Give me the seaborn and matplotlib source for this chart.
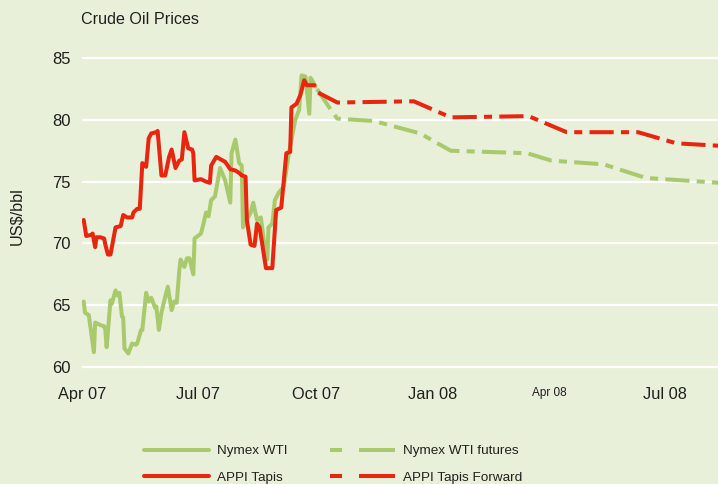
# Crude oil prices: Nymex WTI / APPI Tapis, spot and forward curves
import pandas as pd
import matplotlib.pyplot as plt
import matplotlib.dates as mdates
from matplotlib.lines import Line2D
import seaborn as sns

# --- data (US$/bbl) ---
wti_dates = ["2007-04-02", "2007-04-03", "2007-04-06", "2007-04-10", "2007-04-11", "2007-04-15",
             "2007-04-18", "2007-04-19", "2007-04-20", "2007-04-23", "2007-04-24", "2007-04-27",
             "2007-04-28", "2007-04-30", "2007-05-02", "2007-05-03", "2007-05-04", "2007-05-07",
             "2007-05-10", "2007-05-13", "2007-05-14", "2007-05-17", "2007-05-18", "2007-05-21",
             "2007-05-23", "2007-05-25", "2007-05-28", "2007-05-29", "2007-05-31", "2007-06-02",
             "2007-06-05", "2007-06-07", "2007-06-10", "2007-06-12", "2007-06-14", "2007-06-16",
             "2007-06-17", "2007-06-20", "2007-06-22", "2007-06-24", "2007-06-27", "2007-06-28",
             "2007-07-03", "2007-07-05", "2007-07-07", "2007-07-09", "2007-07-11", "2007-07-14",
             "2007-07-18", "2007-07-22", "2007-07-26", "2007-07-27", "2007-07-30", "2007-08-02",
             "2007-08-04", "2007-08-05", "2007-08-08", "2007-08-11", "2007-08-13", "2007-08-16",
             "2007-08-19", "2007-08-21", "2007-08-24", "2007-08-25", "2007-08-28", "2007-08-30",
             "2007-09-02", "2007-09-06", "2007-09-10", "2007-09-15", "2007-09-18", "2007-09-20",
             "2007-09-23", "2007-09-26", "2007-09-27", "2007-10-01"]
wti_price = [65.3, 64.4, 64.2, 61.2, 63.6, 63.4,
             63.3, 63.0, 61.6, 65.4, 65.1, 66.2,
             65.8, 66.0, 64.1, 64.0, 61.5, 61.1,
             61.9, 61.8, 61.9, 63.0, 63.0, 66.0,
             65.3, 65.6, 64.8, 64.9, 63.0, 64.4,
             65.7, 66.5, 64.6, 65.3, 65.2, 67.8,
             68.7, 68.1, 68.8, 68.8, 67.5, 70.4,
             70.8, 71.6, 72.5, 72.2, 73.5, 73.8,
             76.1, 75.1, 73.3, 77.3, 78.4, 76.5,
             76.3, 71.3, 71.9, 72.5, 73.3, 71.9,
             72.1, 70.5, 68.7, 71.3, 71.6, 73.5,
             74.1, 74.6, 77.3, 80.0, 80.8, 83.6,
             83.5, 80.5, 83.4, 82.7]

wti_fut_dates = ["2007-10-02", "2007-10-13", "2007-10-18", "2007-11-16", "2007-12-22", "2008-01-15",
                 "2008-03-15", "2008-04-03", "2008-05-14", "2008-06-16", "2008-08-13"]
wti_fut_price = [82.5, 80.8, 80.1, 79.9, 78.9, 77.5,
                 77.3, 76.7, 76.4, 75.3, 74.9]

tapis_dates = ["2007-04-02", "2007-04-04", "2007-04-08", "2007-04-09", "2007-04-11", "2007-04-12",
               "2007-04-15", "2007-04-18", "2007-04-19", "2007-04-21", "2007-04-23", "2007-04-27",
               "2007-05-01", "2007-05-03", "2007-05-06", "2007-05-10", "2007-05-11", "2007-05-14",
               "2007-05-16", "2007-05-18", "2007-05-21", "2007-05-23", "2007-05-25", "2007-05-29",
               "2007-05-30", "2007-06-02", "2007-06-05", "2007-06-08", "2007-06-10", "2007-06-13",
               "2007-06-16", "2007-06-18", "2007-06-20", "2007-06-23", "2007-06-26", "2007-06-27",
               "2007-06-28", "2007-07-03", "2007-07-07", "2007-07-10", "2007-07-11", "2007-07-15",
               "2007-07-22", "2007-07-26", "2007-07-30", "2007-08-02", "2007-08-04", "2007-08-07",
               "2007-08-08", "2007-08-11", "2007-08-14", "2007-08-16", "2007-08-18", "2007-08-20",
               "2007-08-23", "2007-08-28", "2007-08-31", "2007-09-04", "2007-09-08", "2007-09-11",
               "2007-09-12", "2007-09-16", "2007-09-19", "2007-09-22", "2007-09-24", "2007-09-30"]
tapis_price = [71.9, 70.6, 70.7, 70.8, 69.7, 70.5,
               70.5, 70.4, 69.9, 69.1, 69.1, 71.3,
               71.4, 72.3, 72.1, 72.1, 72.5, 72.8,
               72.8, 76.5, 76.2, 78.5, 78.9, 79.0,
               79.1, 75.5, 75.5, 77.0, 77.6, 76.1,
               76.7, 76.8, 79.0, 77.7, 77.6, 77.3,
               75.1, 75.2, 75.0, 74.9, 76.3, 77.0,
               76.6, 76.0, 75.9, 75.7, 75.5, 75.4,
               71.9, 69.9, 69.8, 71.6, 71.3, 70.0,
               68.0, 68.0, 72.7, 72.9, 77.3, 77.4,
               81.0, 81.3, 82.0, 83.2, 82.8, 82.8]

tapis_fwd_dates = ["2007-10-03", "2007-10-18", "2007-12-17", "2008-01-15", "2008-03-16",
                   "2008-04-15", "2008-06-10", "2008-07-10", "2008-08-13"]
tapis_fwd_price = [82.2, 81.4, 81.5, 80.2, 80.3,
                   79.0, 79.0, 78.1, 77.9]

tick_dates = ["2007-04-01", "2007-07-01", "2007-10-01", "2008-01-01", "2008-04-01", "2008-07-01"]
tick_labels = ["Apr 07", "Jul 07", "Oct 07", "Jan 08", "Apr 08", "Jul 08"]

# --- style ---
sns.set_theme(style="white")
plt.rcParams['font.family'] = ['Liberation Sans', 'DejaVu Sans']

bg = "#E8F0D9"
green = "#A9CA6C"
red = "#E8250F"
ink = "#231F20"
lw = 2.9
fwd_dash = (6, 1.8, 2, 1.8)

fig = plt.figure(figsize=(7.18, 4.84), dpi=100, facecolor=bg)
ax = fig.add_axes([0.1148, 0.2289, 0.8852, 0.6895], facecolor=bg)


def draw(dates, prices, color, dashes=None):
    df = pd.DataFrame({"date": pd.to_datetime(dates), "price": prices})
    sns.lineplot(data=df, x="date", y="price", color=color, lw=lw, ax=ax)
    line = ax.lines[-1]
    if dashes:
        line.set_dashes(dashes)


draw(wti_dates, wti_price, green)
draw(wti_fut_dates, wti_fut_price, green, fwd_dash)
draw(tapis_dates, tapis_price, red)
draw(tapis_fwd_dates, tapis_fwd_price, red, fwd_dash)

# axes
start = pd.Timestamp("2007-04-01")
ax.set_xlim(mdates.date2num(start), mdates.date2num(start) + 498.7)
ax.set_ylim(59.5, 86.5)
ax.set_yticks([60, 65, 70, 75, 80, 85])
ax.set_xticks(pd.to_datetime(tick_dates))
ax.set_xticklabels(tick_labels)
ax.set_xlabel("")
ax.set_ylabel("")
ax.yaxis.grid(True, color="white", lw=1.6)
ax.xaxis.grid(False)
ax.set_axisbelow(True)
for s in ax.spines.values():
    s.set_visible(False)
ax.tick_params(axis="y", length=0, pad=8.5, labelsize=12, labelcolor=ink)
ax.tick_params(axis="x", length=0, pad=10, labelsize=11.8, labelcolor=ink)
ax.get_xticklabels()[4].set_fontsize(8.5)

fig.text(81 / 718, 1 - 24 / 484, "Crude Oil Prices", fontsize=11.6, color=ink, va="baseline", ha="left")
fig.text(17 / 718, 1 - 216 / 484, "US$/bbl", fontsize=11.7, color=ink, rotation=90, va="center", ha="center")

# legend
handles = [
    Line2D([], [], color=green, lw=lw),
    Line2D([], [], color=red, lw=lw),
    Line2D([], [], color=green, lw=lw, dashes=(3, 4.2, 9, 20)),
    Line2D([], [], color=red, lw=lw, dashes=(3, 4.2, 9, 20)),
]
labels = ["Nymex WTI", "APPI Tapis", "Nymex WTI futures", "APPI Tapis Forward"]
fig.legend(handles, labels, ncol=2, loc="center left", bbox_to_anchor=(144 / 718, 1 - 464.5 / 484),
           frameon=False, fontsize=9.7, handlelength=4.8, handletextpad=0.6, columnspacing=3.2,
           labelspacing=1.08, borderaxespad=0, borderpad=0, labelcolor=ink)

fig.savefig("out.png", dpi=100, facecolor=bg)
